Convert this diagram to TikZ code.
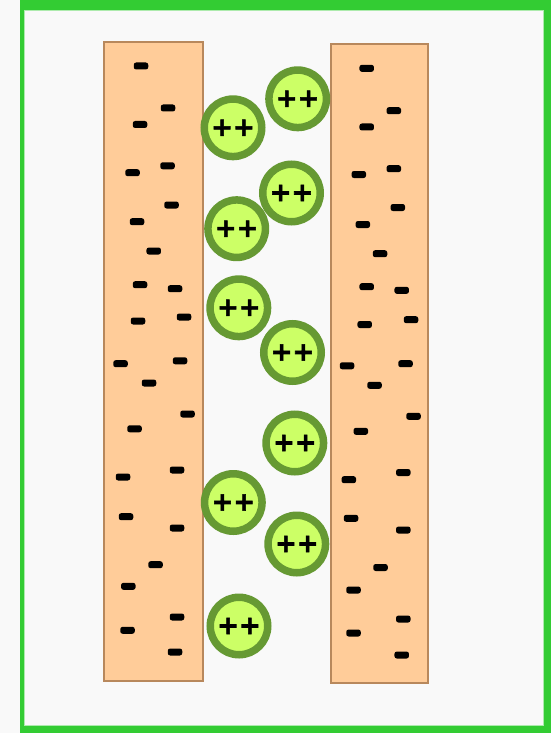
\documentclass[tikz,border=0pt]{standalone}
\usepackage{fontspec}
\newfontfamily\plusfont[FakeBold=2]{DejaVu Sans Bold}
\definecolor{framegreen}{HTML}{33CC33}
\definecolor{bgwhite}{HTML}{F9F9F9}
\definecolor{peach}{HTML}{FFCC99}
\definecolor{peachedge}{HTML}{B8885C}
\definecolor{ringgreen}{HTML}{669933}
\definecolor{ionfill}{HTML}{CCFF66}
\newcommand{\ionmark}{\raisebox{-2.5pt}{++}}
\tikzset{
  wallbox/.style={rectangle, fill=peach, draw=peachedge, line width=1.2pt, inner sep=0pt},
  ion/.style={circle, fill=ionfill, draw=ringgreen, line width=7.5pt,
    minimum size=57.5pt, inner sep=0pt,
    font=\plusfont\fontsize{26}{26}\selectfont, text=black},
  electron/.style={fill=black, rounded corners=2.4pt, minimum width=14.5pt,
    minimum height=7pt, inner sep=0pt}
}
\begin{document}
\begin{tikzpicture}[x=1pt,y=-1pt]
\useasboundingbox (0,0) rectangle (551,733);
\fill[bgwhite] (0,0) rectangle (551,733);
% frame
\fill[framegreen] (20,0) rectangle (551,733);
\fill[bgwhite] (23.5,10) rectangle (543.3,725.7);
\draw[framegreen!40, line width=0.8pt] (24,10.4) rectangle (542.9,725.3);
% walls
\node[wallbox, minimum width=99pt, minimum height=639pt] (leftwall) at (153.5,361.5) {};
\node[wallbox, minimum width=97pt, minimum height=639pt] (rightwall) at (379.5,363.5) {};
% electrons in left wall
\foreach \x/\y [count=\i] in {141/66,168/108,140/124.5,132.5/172.7,167.5/165.8,171.5/205,137/221.7,
  153.7/251,140/284.7,175/288.7,138/321,184/317,120.5/363.7,180/360.8,149/383,187.5/414,134.5/428.8,
  177/470,123/477,126/516.7,177/528,155.5/564.7,128.3/586.3,177/617,127.5/630.3,175/652}
  \node[electron] (eL\i) at (\x,\y) {};
% electrons in right wall
\foreach \x/\y [count=\i] in {366.7/68.3,393.8/110.7,366.7/127,358.8/174.5,393.8/168.7,397.8/207.5,362.8/224.5,
  380/253.7,366.7/286.7,401.7/290.3,364.7/324.5,411/319.7,347/365.8,405.5/363.7,374.5/385.3,413.5/416.3,360.8/431.3,
  403.3/472.5,348.8/479.7,351/518.3,403.3/530,380.5/567.5,353.5/590,403.3/619,353.5/633,401.7/655}
  \node[electron] (eR\i) at (\x,\y) {};
% positive ions
\foreach \x/\y [count=\i] in {297.7/98.8,233/127.8,291.5/193,236.7/228.7,238.8/307.8,292.5/352.5,
  294.8/443,233.3/502.5,296.8/544,239/626}
  \node[ion] (ion\i) at (\x,\y) {\ionmark};
\end{tikzpicture}
\end{document}
